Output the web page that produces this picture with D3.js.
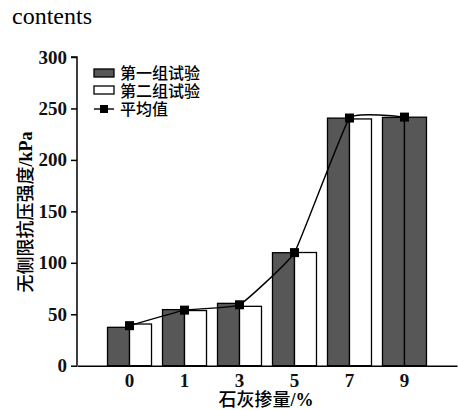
<!DOCTYPE html>
<html>
<head>
<meta charset="utf-8">
<script src="https://cdn.jsdelivr.net/npm/d3@7"></script>
<style>
  html, body { margin: 0; padding: 0; background: #fff; }
  svg { display: block; }
</style>
</head>
<body>
<div id="chart"></div>
<script>
// Lime content (%) on the x axis
const categories = ["0", "1", "3", "5", "7", "9"];
// Unconfined compressive strength (kPa) for the two test groups
const group1 = [37.3, 54.5, 60.6, 109.8, 240.6, 241.3];
const group2 = [40.5, 53.6, 57.7, 110.0, 239.8, 241.5];
// Mean of the two groups
const meanValues = [38.9, 54.0, 59.2, 109.9, 240.7, 241.6];
// Fill of each second-group bar
const group2Fills = ["#fff", "#fff", "#fff", "#fff", "#fff", "#575757"];
const yTicks = [0, 50, 100, 150, 200, 250, 300];
const legendLabels = ["第一组试验", "第二组试验", "平均值"];

const W = 458, H = 410;
const dark = "#575757";
const serif = "'Liberation Serif', 'Times New Roman', serif";
const cjk = "'Noto Sans CJK SC', 'Noto Sans', sans-serif";

const svg = d3.select("#chart").append("svg")
  .attr("width", W).attr("height", H);

svg.append("text")
  .attr("x", 12).attr("y", 24)
  .attr("font-family", serif).attr("font-size", 24)
  .text("contents");

const x0 = 77, x1 = 457, yTop = 57, yBot = 365.7;

const x = d3.scaleBand().domain(categories).range([x0, x1])
  .paddingInner(0.2).paddingOuter(0.555);
const xs = d3.scaleBand().domain([0, 1]).range([0, x.bandwidth()]);
const y = d3.scaleLinear().domain([0, 300]).range([yBot, yTop]);

// Bars
const g = svg.append("g");
const rows = categories.map((c, i) => ({ c, i }));
g.selectAll("rect.b1").data(rows).join("rect")
  .attr("x", d => x(d.c) + xs(0))
  .attr("y", d => y(group1[d.i]))
  .attr("width", xs.bandwidth())
  .attr("height", d => y(0) - y(group1[d.i]))
  .attr("fill", dark).attr("stroke", "#000").attr("stroke-width", 1.3);
g.selectAll("rect.b2").data(rows).join("rect")
  .attr("x", d => x(d.c) + xs(1))
  .attr("y", d => y(group2[d.i]))
  .attr("width", xs.bandwidth())
  .attr("height", d => y(0) - y(group2[d.i]))
  .attr("fill", d => group2Fills[d.i]).attr("stroke", "#000").attr("stroke-width", 1.3);

// Mean curve with square markers
const cx = c => x(c) + x.bandwidth() / 2;
const line = d3.line().x(d => cx(d.c)).y(d => y(meanValues[d.i]))
  .curve(d3.curveCardinal.tension(0.7));
svg.append("path").attr("d", line(rows))
  .attr("fill", "none").attr("stroke", "#000").attr("stroke-width", 1.4);
const ms = 9;
svg.selectAll("rect.m").data(rows).join("rect")
  .attr("x", d => cx(d.c) - ms / 2)
  .attr("y", d => y(meanValues[d.i]) - ms / 2)
  .attr("width", ms).attr("height", ms).attr("fill", "#000");

// Y axis
const yAxis = svg.append("g").attr("transform", `translate(${x0},0)`)
  .call(d3.axisLeft(y).tickValues(yTicks).tickSize(6).tickPadding(4));
yAxis.select(".domain").attr("stroke", "#000").attr("stroke-width", 1.5)
  .attr("d", `M-6,${yTop}H0V${yBot}`);
yAxis.selectAll(".tick line").attr("stroke-width", 1.5);
yAxis.selectAll("text").attr("font-family", serif).attr("font-size", 19)
  .attr("font-weight", "bold").attr("fill", "#111");

// X axis
const xAxis = svg.append("g").attr("transform", `translate(0,${yBot})`)
  .call(d3.axisBottom(x).tickSize(0).tickPadding(8));
xAxis.select(".domain").attr("stroke", "#000").attr("stroke-width", 1.5);
xAxis.selectAll("text").attr("font-family", serif).attr("font-size", 19)
  .attr("font-weight", "bold").attr("fill", "#111");

// Axis titles
svg.append("text")
  .attr("x", (x0 + x1) / 2 - 1).attr("y", 406)
  .attr("text-anchor", "middle")
  .attr("font-size", 18).attr("font-weight", 500)
  .html(`<tspan font-family="${cjk}">石灰掺量</tspan><tspan font-family="${serif}" font-weight="bold">/%</tspan>`);

svg.append("text")
  .attr("transform", `translate(32,212) rotate(-90)`)
  .attr("text-anchor", "middle")
  .attr("font-size", 18).attr("font-weight", 500)
  .html(`<tspan font-family="${cjk}">无侧限抗压强度</tspan><tspan font-family="${serif}" font-weight="bold">/kPa</tspan>`);

// Legend
const lg = svg.append("g");
const lx = 94, lw = 20;
lg.append("rect").attr("x", lx).attr("y", 69).attr("width", lw).attr("height", 8)
  .attr("fill", dark).attr("stroke", "#000").attr("stroke-width", 1.3);
lg.append("rect").attr("x", lx).attr("y", 86).attr("width", lw).attr("height", 8)
  .attr("fill", "#fff").attr("stroke", "#000").attr("stroke-width", 1.3);
lg.append("line").attr("x1", lx).attr("x2", lx + lw).attr("y1", 109).attr("y2", 109)
  .attr("stroke", "#000").attr("stroke-width", 1.4);
lg.append("rect").attr("x", lx + lw / 2 - 4).attr("y", 105).attr("width", 8).attr("height", 8)
  .attr("fill", "#000");
lg.selectAll("text.l").data(legendLabels).join("text")
  .attr("x", 120).attr("y", (d, i) => 79 + i * 18)
  .attr("font-family", cjk).attr("font-size", 16).attr("font-weight", 500)
  .text(d => d);
</script>
</body>
</html>
